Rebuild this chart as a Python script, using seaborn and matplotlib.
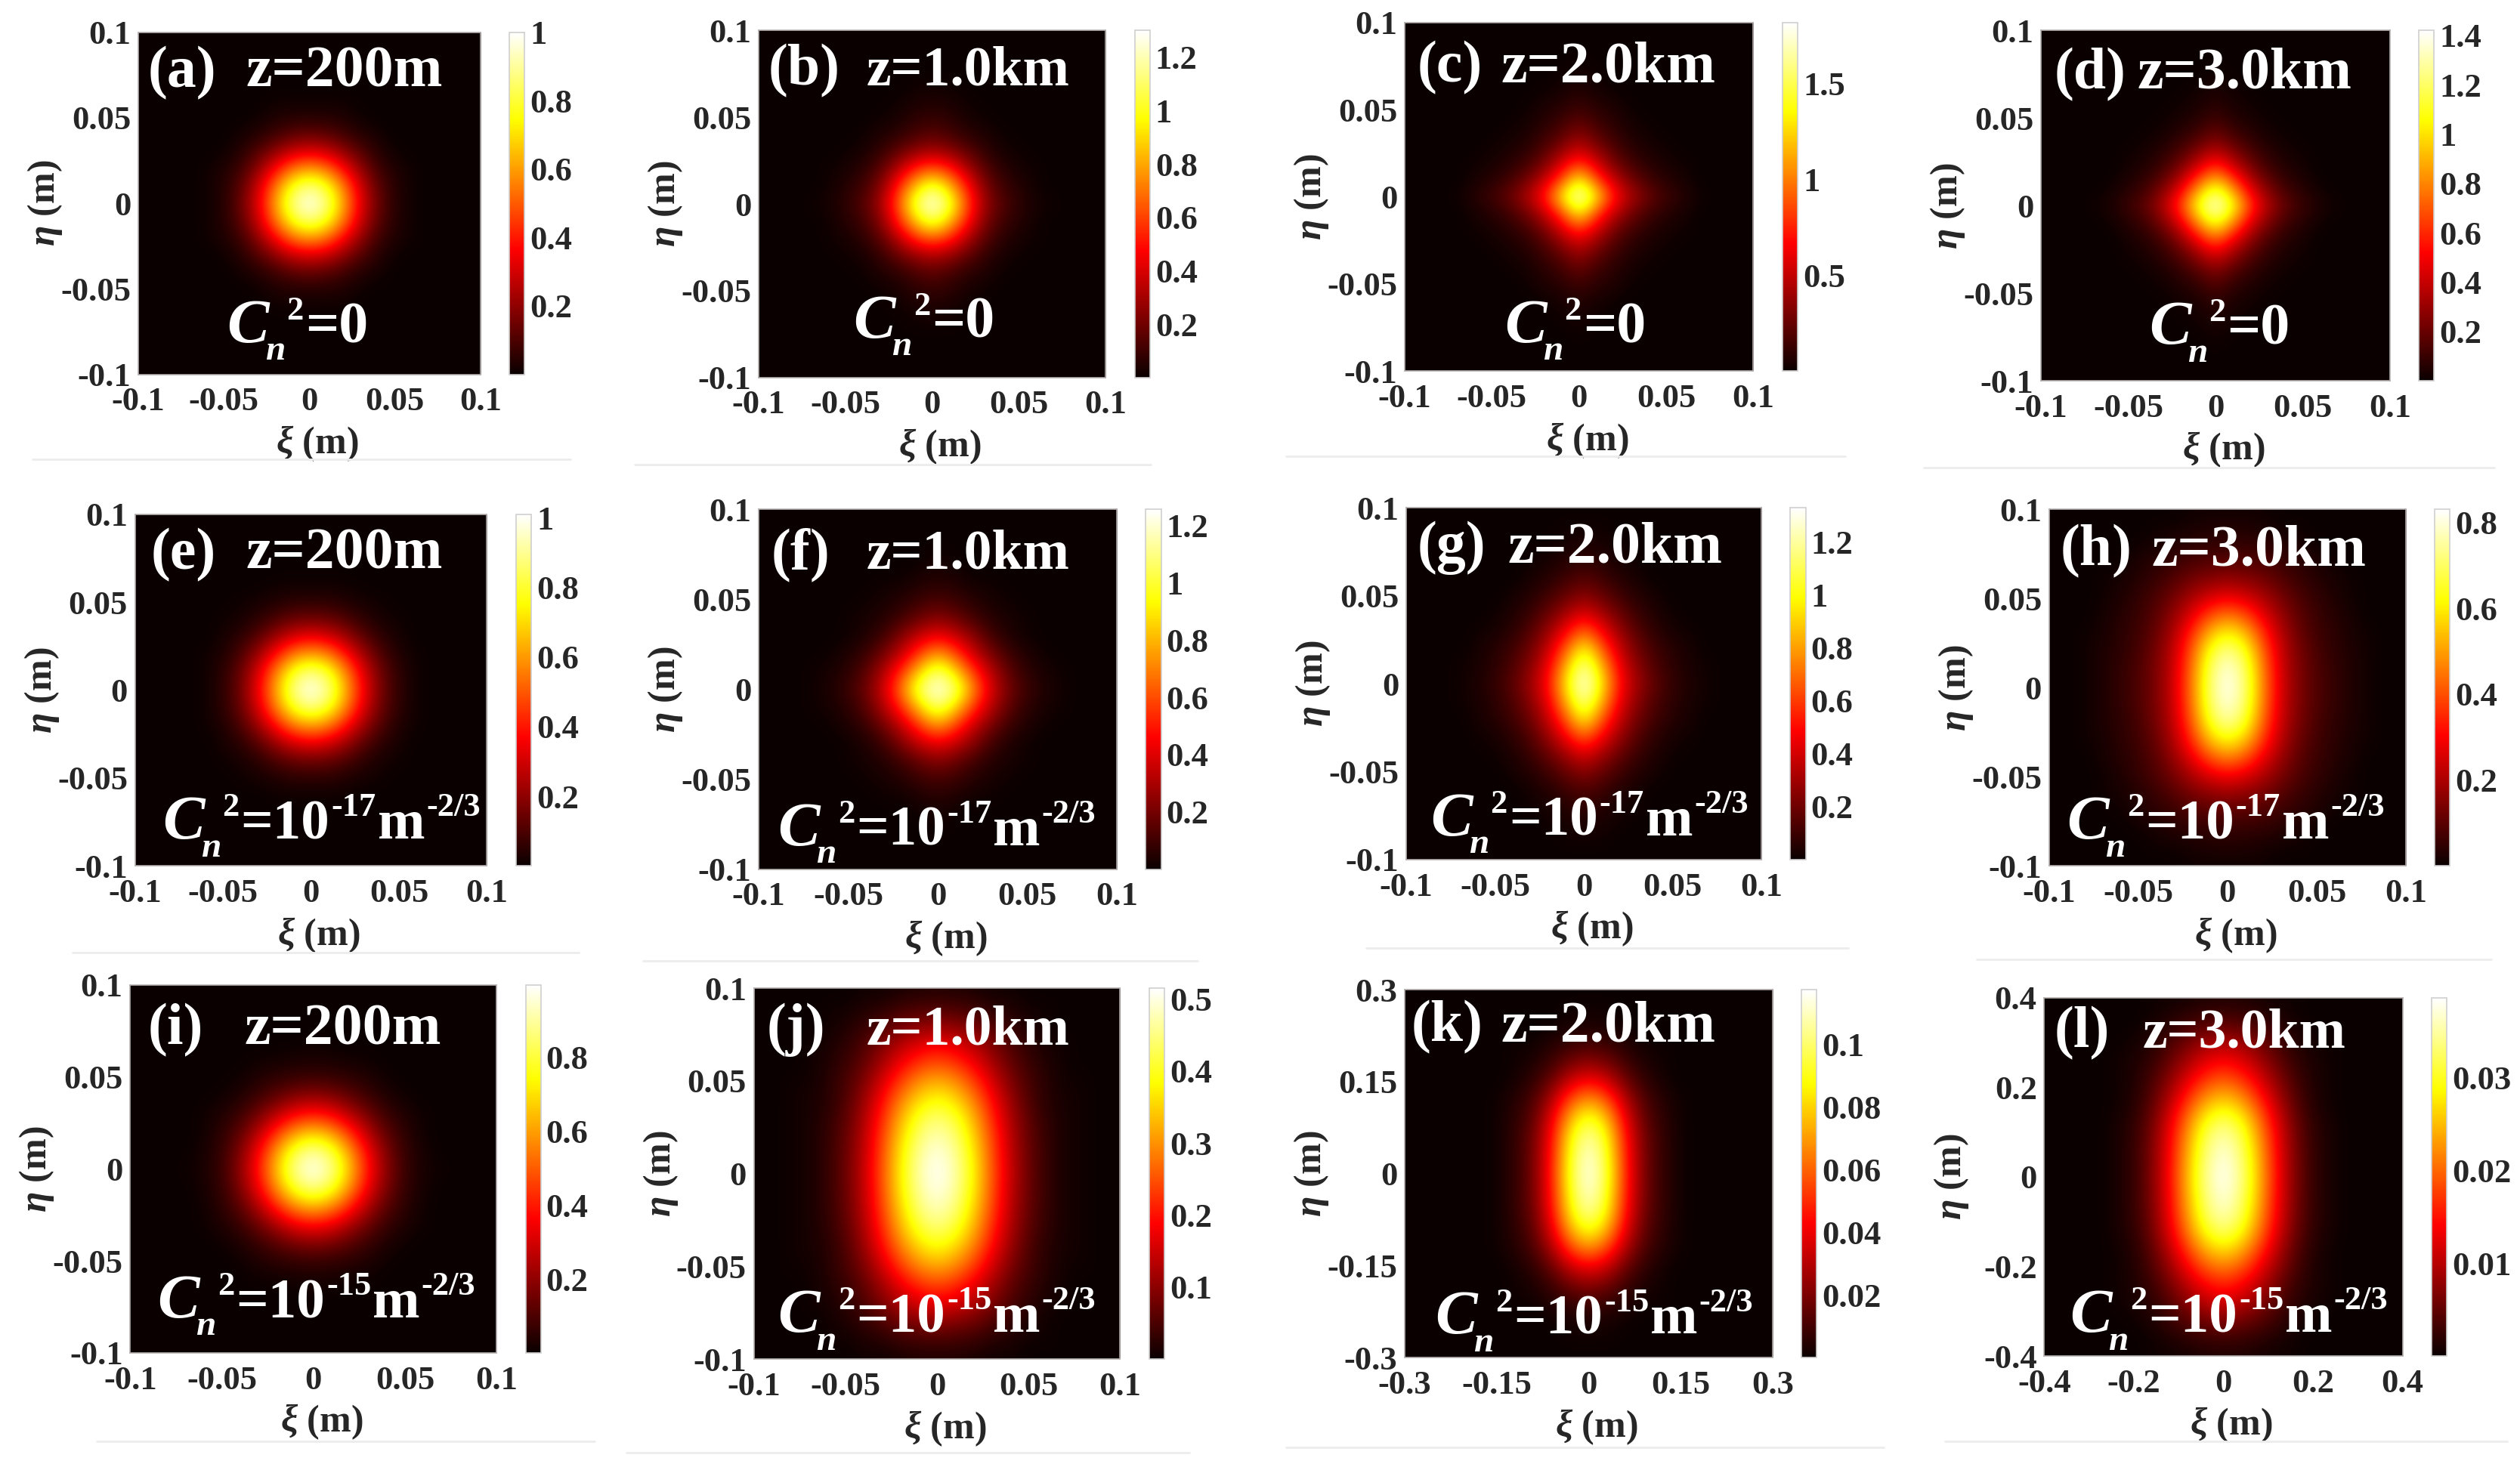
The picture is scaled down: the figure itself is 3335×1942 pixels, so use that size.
import matplotlib
matplotlib.use('Agg')
import matplotlib.pyplot as plt
from matplotlib.lines import Line2D
import numpy as np
import seaborn as sns

# intensity, % of the colorbar top, one quadrant
# rows: eta = 0 .. edge, columns: xi = 0 .. edge
QUAD_A = [[100, 88, 61, 32, 14, 4, 1, 0, 0, 0, 0],
          [88, 78, 54, 29, 12, 4, 1, 0, 0, 0, 0],
          [61, 54, 37, 20, 8, 3, 1, 0, 0, 0, 0],
          [32, 29, 20, 11, 4, 1, 0, 0, 0, 0, 0],
          [14, 12, 8, 4, 2, 0, 0, 0, 0, 0, 0],
          [4, 4, 3, 1, 0, 0, 0, 0, 0, 0, 0],
          [1, 1, 1, 0, 0, 0, 0, 0, 0, 0, 0],
          [0] * 11, [0] * 11, [0] * 11, [0] * 11]
QUAD_B = [[100, 82, 48, 22, 11, 5, 2, 1, 0, 0, 0],
          [84, 66, 40, 18, 8, 4, 1, 0, 0, 0, 0],
          [50, 42, 25, 12, 5, 2, 1, 0, 0, 0, 0],
          [24, 20, 13, 6, 2, 1, 0, 0, 0, 0, 0],
          [12, 9, 5, 3, 1, 0, 0, 0, 0, 0, 0],
          [6, 5, 2, 1, 0, 0, 0, 0, 0, 0, 0],
          [3, 2, 1, 0, 0, 0, 0, 0, 0, 0, 0],
          [1, 1, 0, 0, 0, 0, 0, 0, 0, 0, 0],
          [0] * 11, [0] * 11, [0] * 11]
QUAD_C = [[100, 72, 40, 24, 14, 8, 4, 1, 0, 0, 0],
          [74, 46, 27, 15, 8, 4, 2, 0, 0, 0, 0],
          [42, 29, 15, 8, 4, 2, 1, 0, 0, 0, 0],
          [25, 16, 9, 4, 2, 1, 0, 0, 0, 0, 0],
          [15, 9, 5, 2, 1, 0, 0, 0, 0, 0, 0],
          [8, 5, 3, 1, 0, 0, 0, 0, 0, 0, 0],
          [4, 2, 1, 0, 0, 0, 0, 0, 0, 0, 0],
          [2, 1, 0, 0, 0, 0, 0, 0, 0, 0, 0],
          [1, 0, 0, 0, 0, 0, 0, 0, 0, 0, 0],
          [0] * 11, [0] * 11]
QUAD_D = [[100, 78, 46, 25, 13, 7, 3, 1, 0, 0, 0],
          [80, 58, 32, 17, 8, 4, 1, 0, 0, 0, 0],
          [50, 34, 19, 9, 4, 2, 0, 0, 0, 0, 0],
          [28, 19, 10, 5, 2, 1, 0, 0, 0, 0, 0],
          [15, 9, 5, 2, 1, 0, 0, 0, 0, 0, 0],
          [8, 4, 2, 1, 0, 0, 0, 0, 0, 0, 0],
          [4, 2, 1, 0, 0, 0, 0, 0, 0, 0, 0],
          [2, 1, 0, 0, 0, 0, 0, 0, 0, 0, 0],
          [1, 0, 0, 0, 0, 0, 0, 0, 0, 0, 0],
          [0] * 11, [0] * 11]
QUAD_E = [[100, 89, 62, 35, 15, 5, 1, 0, 0, 0, 0],
          [89, 79, 56, 31, 14, 5, 1, 0, 0, 0, 0],
          [62, 56, 39, 22, 10, 3, 1, 0, 0, 0, 0],
          [35, 31, 22, 12, 5, 2, 0, 0, 0, 0, 0],
          [15, 14, 10, 5, 2, 1, 0, 0, 0, 0, 0],
          [5, 5, 3, 2, 1, 0, 0, 0, 0, 0, 0],
          [1, 1, 1, 0, 0, 0, 0, 0, 0, 0, 0],
          [0] * 11, [0] * 11, [0] * 11, [0] * 11]
QUAD_F = [[100, 86, 56, 30, 15, 7, 3, 1, 0, 0, 0],
          [87, 68, 44, 25, 12, 5, 2, 1, 0, 0, 0],
          [60, 46, 28, 16, 7, 3, 1, 0, 0, 0, 0],
          [34, 28, 18, 8, 3, 1, 0, 0, 0, 0, 0],
          [18, 14, 8, 4, 2, 1, 0, 0, 0, 0, 0],
          [9, 7, 4, 2, 1, 0, 0, 0, 0, 0, 0],
          [4, 3, 1, 1, 0, 0, 0, 0, 0, 0, 0],
          [2, 1, 0, 0, 0, 0, 0, 0, 0, 0, 0],
          [1, 0, 0, 0, 0, 0, 0, 0, 0, 0, 0],
          [0] * 11, [0] * 11]
QUAD_G = [[100, 72, 38, 22, 12, 6, 3, 1, 0, 0, 0],
          [92, 64, 34, 19, 10, 5, 2, 1, 0, 0, 0],
          [76, 50, 28, 15, 8, 4, 2, 0, 0, 0, 0],
          [52, 36, 21, 11, 5, 2, 1, 0, 0, 0, 0],
          [32, 23, 14, 7, 3, 1, 0, 0, 0, 0, 0],
          [19, 14, 8, 4, 2, 0, 0, 0, 0, 0, 0],
          [11, 8, 4, 2, 0, 0, 0, 0, 0, 0, 0],
          [6, 4, 2, 1, 0, 0, 0, 0, 0, 0, 0],
          [3, 2, 1, 0, 0, 0, 0, 0, 0, 0, 0],
          [1, 1, 0, 0, 0, 0, 0, 0, 0, 0, 0],
          [0] * 11]
QUAD_H = [[100, 86, 55, 30, 17, 10, 6, 3, 1, 0, 0],
          [98, 84, 54, 29, 17, 10, 6, 3, 1, 0, 0],
          [90, 78, 50, 28, 16, 9, 5, 3, 1, 0, 0],
          [75, 65, 43, 25, 14, 8, 5, 2, 1, 0, 0],
          [55, 48, 33, 21, 12, 7, 4, 2, 0, 0, 0],
          [35, 31, 24, 16, 10, 6, 3, 1, 0, 0, 0],
          [21, 19, 16, 11, 7, 4, 2, 1, 0, 0, 0],
          [12, 11, 10, 7, 5, 3, 1, 0, 0, 0, 0],
          [6, 6, 5, 4, 2, 1, 0, 0, 0, 0, 0],
          [3, 3, 2, 1, 1, 0, 0, 0, 0, 0, 0],
          [1, 1, 1, 0, 0, 0, 0, 0, 0, 0, 0]]
QUAD_I = [[100, 90, 66, 39, 19, 7, 2, 1, 0, 0, 0],
          [90, 81, 59, 35, 17, 6, 2, 0, 0, 0, 0],
          [66, 59, 43, 25, 12, 5, 1, 0, 0, 0, 0],
          [39, 35, 25, 15, 7, 3, 1, 0, 0, 0, 0],
          [19, 17, 12, 7, 3, 1, 0, 0, 0, 0, 0],
          [7, 6, 5, 3, 1, 0, 0, 0, 0, 0, 0],
          [2, 2, 1, 1, 0, 0, 0, 0, 0, 0, 0],
          [1, 0, 0, 0, 0, 0, 0, 0, 0, 0, 0],
          [0] * 11, [0] * 11, [0] * 11]
QUAD_J = [[100, 92, 73, 49, 28, 14, 6, 2, 1, 0, 0],
          [98, 90, 72, 48, 27, 14, 6, 2, 1, 0, 0],
          [93, 86, 68, 46, 26, 13, 6, 2, 1, 0, 0],
          [86, 79, 63, 42, 24, 12, 5, 2, 1, 0, 0],
          [75, 69, 55, 37, 21, 10, 4, 2, 1, 0, 0],
          [62, 57, 45, 30, 17, 9, 4, 1, 1, 0, 0],
          [47, 43, 34, 23, 13, 7, 3, 1, 0, 0, 0],
          [34, 31, 25, 17, 10, 5, 2, 1, 0, 0, 0],
          [20, 18, 15, 10, 6, 3, 1, 0, 0, 0, 0],
          [9, 8, 7, 4, 3, 1, 1, 0, 0, 0, 0],
          [3, 3, 2, 1, 1, 0, 0, 0, 0, 0, 0]]
QUAD_K = [[100, 80, 41, 16, 6, 1, 0, 0, 0, 0, 0],
          [98, 78, 40, 16, 6, 1, 0, 0, 0, 0, 0],
          [92, 74, 38, 15, 6, 1, 0, 0, 0, 0, 0],
          [80, 64, 33, 13, 5, 1, 0, 0, 0, 0, 0],
          [60, 48, 25, 10, 4, 1, 0, 0, 0, 0, 0],
          [37, 30, 15, 6, 2, 0, 0, 0, 0, 0, 0],
          [20, 16, 8, 3, 1, 0, 0, 0, 0, 0, 0],
          [9, 7, 4, 1, 1, 0, 0, 0, 0, 0, 0],
          [3, 2, 1, 0, 0, 0, 0, 0, 0, 0, 0],
          [1, 1, 0, 0, 0, 0, 0, 0, 0, 0, 0],
          [0] * 11]
QUAD_L = [[100, 89, 64, 37, 17, 6, 2, 0, 0, 0, 0],
          [98, 87, 63, 36, 17, 6, 2, 0, 0, 0, 0],
          [94, 84, 60, 35, 16, 6, 2, 0, 0, 0, 0],
          [86, 77, 55, 32, 15, 5, 2, 0, 0, 0, 0],
          [72, 64, 46, 27, 12, 4, 1, 0, 0, 0, 0],
          [56, 50, 36, 21, 10, 3, 1, 0, 0, 0, 0],
          [42, 37, 27, 16, 7, 3, 1, 0, 0, 0, 0],
          [30, 27, 19, 11, 5, 2, 1, 0, 0, 0, 0],
          [18, 16, 12, 7, 3, 1, 0, 0, 0, 0, 0],
          [8, 7, 5, 3, 1, 0, 0, 0, 0, 0, 0],
          [3, 3, 2, 1, 1, 0, 0, 0, 0, 0, 0]]
quads = [QUAD_A, QUAD_B, QUAD_C, QUAD_D, QUAD_E, QUAD_F,
         QUAD_G, QUAD_H, QUAD_I, QUAD_J, QUAD_K, QUAD_L]

panel_tags = ['(a)', '(b)', '(c)', '(d)', '(e)', '(f)', '(g)', '(h)', '(i)', '(j)', '(k)', '(l)']
distances = ['z=200m', 'z=1.0km', 'z=2.0km', 'z=3.0km'] * 3
turbulence = [None] * 4 + ['-17'] * 4 + ['-15'] * 4

# top of each colorbar
peaks = [1.0, 1.30, 1.82, 1.42, 1.01, 1.256, 1.33, 0.83, 0.996, 0.515, 0.1173, 0.0386]
cbar_ticks = [['0.2', '0.4', '0.6', '0.8', '1'],
              ['0.2', '0.4', '0.6', '0.8', '1', '1.2'],
              ['0.5', '1', '1.5'],
              ['0.2', '0.4', '0.6', '0.8', '1', '1.2', '1.4'],
              ['0.2', '0.4', '0.6', '0.8', '1'],
              ['0.2', '0.4', '0.6', '0.8', '1', '1.2'],
              ['0.2', '0.4', '0.6', '0.8', '1', '1.2'],
              ['0.2', '0.4', '0.6', '0.8'],
              ['0.2', '0.4', '0.6', '0.8'],
              ['0.1', '0.2', '0.3', '0.4', '0.5'],
              ['0.02', '0.04', '0.06', '0.08', '0.1'],
              ['0.01', '0.02', '0.03']]
axis_labels = [['-0.1', '-0.05', '0', '0.05', '0.1']] * 10 + \
              [['-0.3', '-0.15', '0', '0.15', '0.3'], ['-0.4', '-0.2', '0', '0.2', '0.4']]

# layout, measured on the 1568 px wide view: left, right, top, bottom
S = 3335 / 1568
W, H = 3335, 1942
boxes = [(86, 299, 20, 233), (472, 688, 19, 235), (874, 1091, 14, 231), (1270, 1487, 19, 237),
         (84, 303, 320, 539), (472, 695, 317, 541), (875, 1096, 316, 535), (1275, 1497, 317, 539),
         (81, 309, 613, 842), (469, 697, 615, 846), (874, 1103, 616, 845), (1272, 1495, 621, 844)]
tag_pos = [(92, 54), (478, 53), (882, 51), (1278, 55), (94, 354), (480, 354),
           (882, 350), (1282, 352), (92, 650), (477, 650), (878, 648), (1278, 652)]
dist_x = [153, 539, 934, 1330, 153, 539, 938, 1339, 152, 539, 934, 1333]
dist_size = [56, 53, 56, 56, 56, 53, 56, 56, 56, 53, 56, 53]
cn_pos = [(141, 213), (531, 210), (936, 213), (1337, 214), (101, 522), (484, 526),
          (890, 520), (1286, 522), (98, 820), (484, 829), (893, 830), (1288, 829)]
rules = [(20, 355, 286), (395, 716, 289), (800, 1148, 284), (1197, 1552, 291),
         (45, 360, 593), (400, 745, 598), (850, 1150, 590), (1230, 1550, 597),
         (60, 370, 897), (390, 740, 904), (800, 1172, 901), (1210, 1560, 897)]

sns.set_theme(style='white')
plt.rcParams['font.family'] = ['Liberation Serif', 'DejaVu Serif']
plt.rcParams['font.weight'] = 'bold'
plt.rcParams['mathtext.fontset'] = 'custom'
plt.rcParams['mathtext.rm'] = 'Liberation Serif:bold'
plt.rcParams['mathtext.it'] = 'Liberation Serif:italic:bold'
plt.rcParams['mathtext.bf'] = 'Liberation Serif:bold'

TICK_SIZE = 32
fig = plt.figure(figsize=(W / 100, H / 100), dpi=100)
renderer = fig.canvas.get_renderer()


def rich_text(x, y, parts):
    # pieces set one after the other, x and baseline y in 1568 px view
    px = x * S
    for s, size, rise, style, gap in parts:
        t = fig.text(px / W, 1 - (y - rise) * S / H, s, color='white', fontsize=size,
                     fontstyle=style, fontweight='bold', va='baseline', ha='left')
        px = t.get_window_extent(renderer).x1 + gap


for k, (left, right, top, bottom) in enumerate(boxes):
    ax = fig.add_axes([left * S / W, 1 - bottom * S / H, (right - left) * S / W, (bottom - top) * S / H])
    cax = fig.add_axes([(right + 18) * S / W, 1 - bottom * S / H, 9.5 * S / W, (bottom - top) * S / H])

    quad = np.array(quads[k]) / 100 * peaks[k]
    field = np.vstack([quad[:0:-1], quad])
    field = np.hstack([field[:, :0:-1], field])
    ticks = [float(t) for t in cbar_ticks[k]]
    sns.heatmap(field, ax=ax, cbar_ax=cax, cmap='hot', vmin=0, vmax=peaks[k],
                xticklabels=False, yticklabels=False, cbar_kws={'ticks': ticks})
    # same cells, smoothed in data space when drawn so the hot bands stay clean
    ax.imshow(field, cmap='hot', vmin=0, vmax=peaks[k], extent=(0, 21, 21, 0), aspect='auto',
              interpolation='bicubic', interpolation_stage='data', zorder=2)
    ax.set_xlim(0.5, 20.5)
    ax.set_ylim(20.5, 0.5)
    tick_pos = np.linspace(0.5, 20.5, 5)
    ax.set_xticks(tick_pos, axis_labels[k])
    ax.set_yticks(tick_pos, axis_labels[k][::-1])
    ax.tick_params(axis='x', length=0, labelsize=TICK_SIZE, pad=12)
    ax.tick_params(axis='y', length=0, labelsize=TICK_SIZE, pad=7)
    for spine in ax.spines.values():
        spine.set_visible(True)
        spine.set_color('#b5b0b0')
        spine.set_linewidth(1.2)
    w, h = right - left, bottom - top
    ax.set_xlabel(r'$\xi$ (m)', fontsize=36, fontweight='bold', va='center')
    ax.xaxis.set_label_coords(0.5 + 5 / w, -43 / h)
    ax.set_ylabel(r'$\eta$ (m)', fontsize=36, fontweight='bold', va='center')
    ax.yaxis.set_label_coords(-58 / w, 0.5)

    cax.set_yticks(ticks, cbar_ticks[k])
    cax.tick_params(length=3, width=1, direction='in', color='#999999', labelsize=TICK_SIZE, pad=5, right=True)
    cb = ax.collections[0].colorbar
    cb.outline.set_visible(True)
    cb.outline.set_edgecolor('#cfcfcf')
    cb.outline.set_linewidth(1.2)

    tx, ty = tag_pos[k]
    rich_text(tx, ty, [(panel_tags[k], 56, 0, 'normal', 0)])
    rich_text(dist_x[k], ty, [(distances[k], dist_size[k], 0, 'normal', 0)])
    cx, cy = cn_pos[k]
    head = [('C', 60, 0, 'italic', 24)]
    if turbulence[k] is None:
        tail = [('2', 32, 14, 'normal', 2), ('=0', 56, 0, 'normal', 0)]
    else:
        tail = [('2', 32, 14, 'normal', 2), ('=10', 54, 0, 'normal', 2), (turbulence[k], 32, 14, 'normal', 2),
                ('m', 54, 0, 'normal', 2), ('-2/3', 32, 14, 'normal', 0)]
    rich_text(cx, cy, head + tail)
    rich_text(cx + 24, cy + 11, [('n', 34, 0, 'italic', 0)])

for x0, x1, y in rules:
    fig.add_artist(Line2D([x0 * S / W, x1 * S / W], [1 - y * S / H] * 2, color='#ececec', lw=2))

fig.savefig('out.png', dpi=100, facecolor='white')
